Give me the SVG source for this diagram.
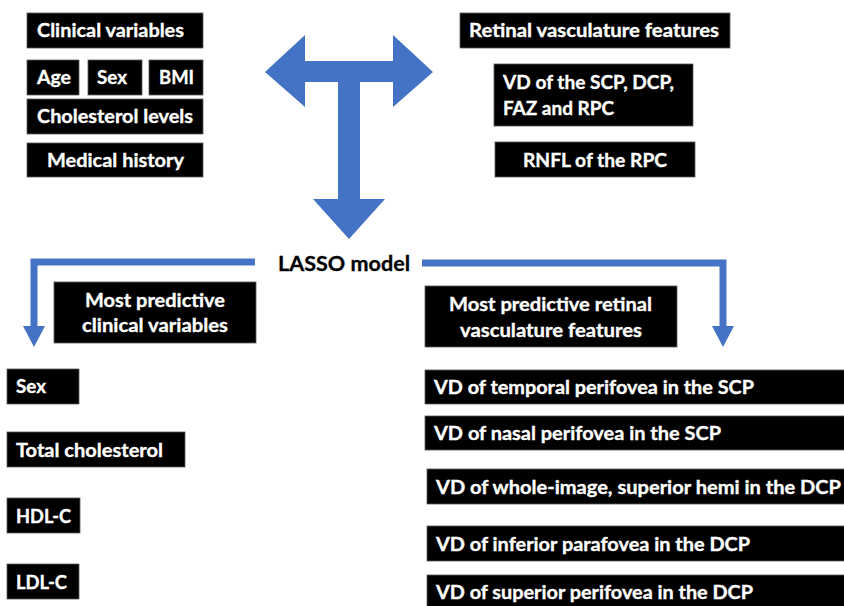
<svg xmlns="http://www.w3.org/2000/svg" width="844" height="606" viewBox="0 0 844 606">
  <style>
    .box { fill: #000; stroke: #5a5a5a; stroke-width: 0.8; }
    .t { fill: #fff; stroke: #fff; stroke-width: 0.35; font-family: Lato, "Open Sans", "Liberation Sans", sans-serif; font-weight: bold; font-size: 19px; }
    .lbl { fill: #000; stroke: #000; stroke-width: 0.3; font-family: Lato, "Open Sans", "Liberation Sans", sans-serif; font-weight: bold; font-size: 21px; }
    .flow { fill: none; stroke: #4472C4; stroke-width: 7; }
    .head { fill: #4472C4; }
  </style>

  <!-- clinical inputs -->
  <g id="clinical-variables">
    <rect class="box" x="27" y="13" width="176" height="35"/>
    <text class="t" x="37" y="37" textLength="147" lengthAdjust="spacingAndGlyphs">Clinical variables</text>
  </g>
  <g id="age">
    <rect class="box" x="27" y="60" width="52" height="35"/>
    <text class="t" x="37" y="84" textLength="34" lengthAdjust="spacingAndGlyphs">Age</text>
  </g>
  <g id="sex-input">
    <rect class="box" x="88" y="60" width="54" height="35"/>
    <text class="t" x="97" y="84" textLength="30" lengthAdjust="spacingAndGlyphs">Sex</text>
  </g>
  <g id="bmi">
    <rect class="box" x="149" y="60" width="54" height="35"/>
    <text class="t" x="159" y="84" textLength="35" lengthAdjust="spacingAndGlyphs">BMI</text>
  </g>
  <g id="cholesterol-levels">
    <rect class="box" x="27" y="99" width="176" height="35"/>
    <text class="t" x="37" y="123" textLength="156" lengthAdjust="spacingAndGlyphs">Cholesterol levels</text>
  </g>
  <g id="medical-history">
    <rect class="box" x="27" y="143" width="176" height="34"/>
    <text class="t" x="47" y="167" textLength="137" lengthAdjust="spacingAndGlyphs">Medical history</text>
  </g>

  <!-- retinal inputs -->
  <g id="retinal-features">
    <rect class="box" x="460" y="13" width="270" height="35"/>
    <text class="t" x="469" y="37" textLength="250" lengthAdjust="spacingAndGlyphs">Retinal vasculature features</text>
  </g>
  <g id="vd-scp-dcp">
    <rect class="box" x="494" y="64" width="199" height="62"/>
    <text class="t" x="503" y="89" textLength="171" lengthAdjust="spacingAndGlyphs">VD of the SCP, DCP,</text>
    <text class="t" x="503" y="115" textLength="111" lengthAdjust="spacingAndGlyphs">FAZ and RPC</text>
  </g>
  <g id="rnfl-rpc">
    <rect class="box" x="495" y="142" width="200" height="35"/>
    <text class="t" x="523" y="167" textLength="144" lengthAdjust="spacingAndGlyphs">RNFL of the RPC</text>
  </g>

  <!-- model -->
  <g id="lasso-model">
    <text class="lbl" x="278" y="271" textLength="132" lengthAdjust="spacingAndGlyphs">LASSO model</text>
  </g>

  <!-- selected clinical variables -->
  <g id="predictive-clinical">
    <rect class="box" x="54" y="282" width="202" height="61"/>
    <text class="t" x="85" y="307" textLength="140" lengthAdjust="spacingAndGlyphs">Most predictive</text>
    <text class="t" x="82" y="332" textLength="146" lengthAdjust="spacingAndGlyphs">clinical variables</text>
  </g>
  <g id="sex">
    <rect class="box" x="7" y="369" width="72" height="35"/>
    <text class="t" x="16" y="393" textLength="30" lengthAdjust="spacingAndGlyphs">Sex</text>
  </g>
  <g id="total-cholesterol">
    <rect class="box" x="7" y="432" width="178" height="35"/>
    <text class="t" x="16" y="457" textLength="147" lengthAdjust="spacingAndGlyphs">Total cholesterol</text>
  </g>
  <g id="hdl-c">
    <rect class="box" x="7" y="498" width="73" height="35"/>
    <text class="t" x="16" y="523" textLength="55" lengthAdjust="spacingAndGlyphs">HDL-C</text>
  </g>
  <g id="ldl-c">
    <rect class="box" x="7" y="564" width="72" height="35"/>
    <text class="t" x="16" y="589" textLength="51" lengthAdjust="spacingAndGlyphs">LDL-C</text>
  </g>

  <!-- selected retinal features -->
  <g id="predictive-retinal">
    <rect class="box" x="425" y="286" width="252" height="61"/>
    <text class="t" x="449" y="311" textLength="203" lengthAdjust="spacingAndGlyphs">Most predictive retinal</text>
    <text class="t" x="460" y="337" textLength="182" lengthAdjust="spacingAndGlyphs">vasculature features</text>
  </g>
  <g id="vd-temporal-scp">
    <rect class="box" x="425" y="370" width="425" height="34"/>
    <text class="t" x="434" y="394" textLength="320" lengthAdjust="spacingAndGlyphs">VD of temporal perifovea in the SCP</text>
  </g>
  <g id="vd-nasal-scp">
    <rect class="box" x="425" y="416" width="425" height="34"/>
    <text class="t" x="434" y="440" textLength="287" lengthAdjust="spacingAndGlyphs">VD of nasal perifovea in the SCP</text>
  </g>
  <g id="vd-whole-dcp">
    <rect class="box" x="427" y="469" width="423" height="35"/>
    <text class="t" x="436" y="494" textLength="405" lengthAdjust="spacingAndGlyphs">VD of whole-image, superior hemi in the DCP</text>
  </g>
  <g id="vd-inferior-dcp">
    <rect class="box" x="427" y="526" width="423" height="35"/>
    <text class="t" x="436" y="551" textLength="314" lengthAdjust="spacingAndGlyphs">VD of inferior parafovea in the DCP</text>
  </g>
  <g id="vd-superior-dcp">
    <rect class="box" x="427" y="575" width="423" height="40"/>
    <text class="t" x="436" y="599" textLength="317" lengthAdjust="spacingAndGlyphs">VD of superior perifovea in the DCP</text>
  </g>

  <!-- connectors -->
  <g id="connectors">
    <polygon class="head" points="265,72 305,35 305,61 393,61 393,35 433,72 393,107 393,82 360,82 360,199 385,199 349,239 313,199 338,199 338,82 305,82 305,107"/>
    <path class="flow" d="M255,262 H34 V328"/>
    <polygon class="head" points="23,326 45,326 34,347"/>
    <path class="flow" d="M422,263 H723 V328"/>
    <polygon class="head" points="712,326 734,326 723,347"/>
  </g>
</svg>
